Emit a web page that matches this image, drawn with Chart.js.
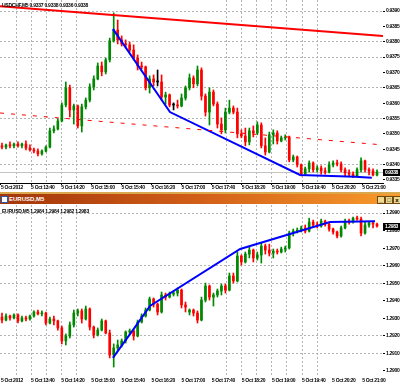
<!DOCTYPE html>
<html>
<head>
<meta charset="utf-8">
<script src="https://cdn.jsdelivr.net/npm/chart.js@4.4.1/dist/chart.umd.min.js"></script>
<style>
body { margin: 0; background: #fff; }
#wrap { position: relative; width: 400px; height: 385px; overflow: hidden; }
canvas { position: absolute; left: 0; }
#c1 { top: 0; }
#c2 { top: 205px; }
.hdr { position: absolute; left: 2px; font: bold 5px 'Liberation Sans', sans-serif; letter-spacing: -0.25px; color: #000; white-space: nowrap; line-height: 6px; }
#gold { position: absolute; left: 0; top: 192px; width: 400px; height: 2px; background: #d9a84f; }
#bar { position: absolute; left: 0; top: 194px; width: 400px; height: 10px; background: linear-gradient(to right, #a2350a, #d25f18 50%, #f99b2c); }
#icon { position: absolute; left: 1px; top: 196px; width: 5px; height: 5px; background: #fff; border: 1px solid #2c5aa8; }
#title { position: absolute; left: 9px; top: 195px; font: bold 6px 'Liberation Sans', sans-serif; color: #fff; line-height: 9px; }
.btn { position: absolute; top: 196px; width: 6px; height: 6px; background: #efd890; border: 1px solid #6a4a12; font: bold 6px 'Liberation Sans', sans-serif; line-height: 6px; text-align: center; color: #000; }
</style>
</head>
<body>
<div id="wrap">
  <canvas id="c1" width="400" height="192"></canvas>
  <div class="hdr" id="h1" style="top:2px"></div>
  <div id="gold"></div>
  <div id="bar"></div>
  <div id="icon"></div>
  <div id="title">EURUSD,M5</div>
  <div class="btn" style="left:377px">_</div>
  <div class="btn" style="left:385px">&#9633;</div>
  <div class="btn" style="left:393px">x</div>
  <canvas id="c2" width="400" height="180"></canvas>
  <div class="hdr" id="h2" style="top:208px"></div>
</div>
<script>
// time axis labels (shared by both windows)
var timeLabels = ['5 Oct 2012', '5 Oct 13:40', '5 Oct 14:20', '5 Oct 15:00', '5 Oct 15:40', '5 Oct 16:20',
  '5 Oct 17:00', '5 Oct 17:40', '5 Oct 18:20', '5 Oct 19:00', '5 Oct 19:40', '5 Oct 20:20', '5 Oct 21:00'];

// USDCHF,M5 candles
var chfOpen = [0.93461,0.93457,0.93464,0.93461,0.93467,0.93461,0.93467,0.93454,0.93448,0.93444,
  0.93435,0.93444,0.93457,0.93510,0.93516,0.93542,0.93594,0.93650,0.93578,0.93591,
  0.93526,0.93588,0.93610,0.93653,0.93679,0.93721,0.93702,0.93741,0.93803,0.93838,
  0.93806,0.93793,0.93790,0.93773,0.93747,0.93721,0.93718,0.93650,0.93679,0.93669,
  0.93669,0.93620,0.93627,0.93594,0.93594,0.93591,0.93617,0.93650,0.93682,0.93663,
  0.93708,0.93623,0.93571,0.93636,0.93597,0.93532,0.93513,0.93571,0.93584,0.93571,
  0.93500,0.93493,0.93474,0.93510,0.93503,0.93529,0.93461,0.93441,0.93497,0.93503,
  0.93477,0.93487,0.93490,0.93415,0.93425,0.93399,0.93369,0.93386,0.93405,0.93383,
  0.93389,0.93379,0.93376,0.93399,0.93405,0.93402,0.93383,0.93373,0.93369,0.93363,
  0.93383,0.93412,0.93383,0.93379,0.93366];
var chfHigh = [0.93470,0.93467,0.93474,0.93470,0.93474,0.93470,0.93477,0.93464,0.93454,0.93451,
  0.93448,0.93461,0.93519,0.93526,0.93549,0.93601,0.93669,0.93659,0.93597,0.93594,
  0.93597,0.93617,0.93663,0.93689,0.93731,0.93734,0.93747,0.93812,0.93894,0.93871,
  0.93819,0.93806,0.93799,0.93790,0.93757,0.93734,0.93721,0.93689,0.93692,0.93708,
  0.93692,0.93636,0.93630,0.93601,0.93610,0.93630,0.93656,0.93695,0.93689,0.93721,
  0.93715,0.93630,0.93650,0.93643,0.93604,0.93552,0.93584,0.93610,0.93591,0.93584,
  0.93513,0.93519,0.93519,0.93526,0.93539,0.93536,0.93487,0.93506,0.93513,0.93510,
  0.93493,0.93497,0.93493,0.93431,0.93428,0.93402,0.93392,0.93412,0.93409,0.93396,
  0.93396,0.93389,0.93409,0.93412,0.93415,0.93409,0.93389,0.93383,0.93376,0.93389,
  0.93422,0.93415,0.93389,0.93386,0.93383];
var chfLow = [0.93451,0.93451,0.93454,0.93454,0.93457,0.93454,0.93448,0.93444,0.93438,0.93428,
  0.93431,0.93441,0.93454,0.93503,0.93513,0.93539,0.93588,0.93555,0.93532,0.93519,
  0.93506,0.93581,0.93604,0.93643,0.93676,0.93689,0.93695,0.93734,0.93799,0.93793,
  0.93786,0.93780,0.93767,0.93741,0.93708,0.93711,0.93643,0.93633,0.93656,0.93656,
  0.93610,0.93597,0.93588,0.93578,0.93584,0.93588,0.93610,0.93643,0.93650,0.93656,
  0.93610,0.93558,0.93529,0.93591,0.93519,0.93500,0.93503,0.93565,0.93565,0.93487,
  0.93487,0.93461,0.93464,0.93490,0.93497,0.93454,0.93431,0.93438,0.93467,0.93467,
  0.93474,0.93480,0.93409,0.93409,0.93392,0.93363,0.93366,0.93376,0.93376,0.93376,
  0.93369,0.93369,0.93373,0.93392,0.93396,0.93376,0.93363,0.93363,0.93357,0.93360,
  0.93376,0.93376,0.93366,0.93363,0.93363];
var chfClose = [0.93457,0.93464,0.93461,0.93467,0.93461,0.93467,0.93454,0.93448,0.93444,0.93435,
  0.93444,0.93457,0.93510,0.93516,0.93542,0.93594,0.93650,0.93578,0.93591,0.93526,
  0.93588,0.93610,0.93653,0.93679,0.93721,0.93702,0.93741,0.93803,0.93838,0.93806,
  0.93793,0.93790,0.93773,0.93747,0.93721,0.93718,0.93650,0.93679,0.93669,0.93669,
  0.93620,0.93627,0.93594,0.93594,0.93591,0.93617,0.93650,0.93682,0.93663,0.93708,
  0.93623,0.93571,0.93636,0.93597,0.93532,0.93513,0.93571,0.93584,0.93571,0.93500,
  0.93493,0.93474,0.93510,0.93503,0.93529,0.93461,0.93441,0.93497,0.93503,0.93477,
  0.93487,0.93490,0.93415,0.93425,0.93399,0.93369,0.93386,0.93405,0.93383,0.93389,
  0.93379,0.93376,0.93399,0.93405,0.93402,0.93383,0.93373,0.93369,0.93363,0.93383,
  0.93412,0.93383,0.93379,0.93366,0.93376];
var chfTicks = [0.9335,0.9340,0.9345,0.9350,0.9355,0.9360,0.9365,0.9370,0.9375,0.9380,0.9385,0.9390];
// drawn objects: red channel lines and blue curve
var trendX = [-0.5, 95.5];
var chfRedLine = [0.93916, 0.93819];
var chfRedDotted = [0.93568, 0.93464];
var chfBlueX = [27.8, 42.1, 74.7, 88.5, 92.7];
var chfBlueY = [0.93842, 0.93571, 0.93366, 0.93360, 0.93357];

// EURUSD,M5 candles
var eurOpen = [1.29307,1.29290,1.29313,1.29302,1.29319,1.29285,1.29302,1.29296,1.29313,1.29336,
  1.29325,1.29330,1.29273,1.29296,1.29285,1.29245,1.29171,1.29199,1.29262,1.29330,
  1.29342,1.29296,1.29353,1.29250,1.29205,1.29233,1.29285,1.29216,1.29091,1.29131,
  1.29148,1.29171,1.29222,1.29228,1.29199,1.29279,1.29313,1.29347,1.29410,1.29381,
  1.29336,1.29433,1.29421,1.29438,1.29444,1.29461,1.29376,1.29336,1.29347,1.29330,
  1.29290,1.29404,1.29484,1.29421,1.29433,1.29456,1.29484,1.29461,1.29541,1.29513,
  1.29655,1.29621,1.29666,1.29689,1.29644,1.29661,1.29712,1.29689,1.29672,1.29683,
  1.29678,1.29695,1.29701,1.29786,1.29797,1.29803,1.29815,1.29797,1.29849,1.29832,
  1.29826,1.29854,1.29837,1.29809,1.29792,1.29769,1.29815,1.29854,1.29849,1.29871,
  1.29866,1.29786,1.29832,1.29843,1.29837];
var eurHigh = [1.29330,1.29325,1.29319,1.29325,1.29325,1.29313,1.29313,1.29319,1.29342,1.29347,
  1.29342,1.29336,1.29307,1.29313,1.29290,1.29256,1.29211,1.29279,1.29347,1.29353,
  1.29353,1.29370,1.29359,1.29256,1.29245,1.29296,1.29290,1.29233,1.29154,1.29176,
  1.29182,1.29228,1.29239,1.29233,1.29290,1.29325,1.29359,1.29421,1.29416,1.29387,
  1.29450,1.29444,1.29450,1.29456,1.29473,1.29467,1.29393,1.29353,1.29353,1.29342,
  1.29421,1.29501,1.29490,1.29444,1.29467,1.29495,1.29495,1.29558,1.29558,1.29678,
  1.29661,1.29678,1.29706,1.29695,1.29678,1.29729,1.29723,1.29723,1.29695,1.29695,
  1.29706,1.29712,1.29797,1.29809,1.29815,1.29826,1.29832,1.29871,1.29860,1.29849,
  1.29866,1.29860,1.29843,1.29815,1.29797,1.29826,1.29866,1.29866,1.29877,1.29883,
  1.29877,1.29849,1.29849,1.29849,1.29843];
var eurLow = [1.29273,1.29285,1.29290,1.29296,1.29273,1.29279,1.29285,1.29290,1.29307,1.29319,
  1.29313,1.29262,1.29268,1.29262,1.29233,1.29154,1.29148,1.29188,1.29250,1.29313,
  1.29273,1.29290,1.29233,1.29188,1.29199,1.29228,1.29211,1.29074,1.29022,1.29119,
  1.29137,1.29159,1.29205,1.29176,1.29194,1.29273,1.29307,1.29342,1.29364,1.29319,
  1.29330,1.29404,1.29416,1.29427,1.29427,1.29359,1.29336,1.29319,1.29313,1.29273,
  1.29285,1.29393,1.29404,1.29370,1.29421,1.29433,1.29444,1.29456,1.29501,1.29507,
  1.29604,1.29615,1.29644,1.29621,1.29632,1.29615,1.29666,1.29655,1.29644,1.29666,
  1.29672,1.29678,1.29695,1.29769,1.29786,1.29792,1.29786,1.29792,1.29820,1.29815,
  1.29820,1.29826,1.29797,1.29780,1.29758,1.29763,1.29809,1.29837,1.29843,1.29860,
  1.29769,1.29780,1.29820,1.29815,1.29820];
var eurClose = [1.29290,1.29313,1.29302,1.29319,1.29285,1.29302,1.29296,1.29313,1.29336,1.29325,
  1.29330,1.29273,1.29296,1.29285,1.29245,1.29171,1.29199,1.29262,1.29330,1.29342,
  1.29296,1.29353,1.29250,1.29205,1.29233,1.29285,1.29216,1.29091,1.29131,1.29148,
  1.29171,1.29222,1.29228,1.29199,1.29279,1.29313,1.29347,1.29410,1.29381,1.29336,
  1.29433,1.29421,1.29438,1.29444,1.29461,1.29376,1.29364,1.29347,1.29330,1.29290,
  1.29404,1.29484,1.29421,1.29433,1.29456,1.29484,1.29461,1.29541,1.29513,1.29655,
  1.29621,1.29666,1.29689,1.29644,1.29661,1.29712,1.29689,1.29672,1.29683,1.29678,
  1.29695,1.29701,1.29786,1.29797,1.29803,1.29815,1.29797,1.29849,1.29832,1.29826,
  1.29854,1.29837,1.29809,1.29792,1.29769,1.29815,1.29854,1.29849,1.29871,1.29866,
  1.29786,1.29832,1.29843,1.29837,1.29826];
var eurTicks = [1.2900,1.2910,1.2920,1.2930,1.2940,1.2950,1.2960,1.2970,1.2980,1.2990];
var eurBlueX = [27.8, 32.8, 37.1, 59.7, 74.7, 82.2, 93.5];
var eurBlueY = [1.29074, 1.29233, 1.29370, 1.29695, 1.29798, 1.29849, 1.29854];

var GREEN = '#008800', RED = '#ff0000', DOJI = '#000000';
var FONT = "'Liberation Sans', sans-serif";

function pts(xs, ys) {
    return xs.map(function (x, i) { return {x: x, y: ys[i]}; });
}

// tight letter spacing for the tiny terminal-style labels
var tightText = {
    id: 'tightText',
    beforeDraw: function (chart) { chart.ctx.letterSpacing = '-0.3px'; }
};

// black price box on the right scale (+ grey bid line)
var lastPrice = {
    id: 'lastPrice',
    beforeDatasetsDraw: function (chart, args, opts) {
        if (!opts.line) return;
        var a = chart.chartArea, y = Math.round(chart.scales.y.getPixelForValue(opts.value)) + 0.5;
        var ctx = chart.ctx;
        ctx.save();
        ctx.strokeStyle = '#c4c4c4';
        ctx.lineWidth = 1;
        ctx.beginPath(); ctx.moveTo(a.left, y); ctx.lineTo(a.right, y); ctx.stroke();
        ctx.restore();
    },
    afterDraw: function (chart, args, opts) {
        var a = chart.chartArea, y = Math.round(chart.scales.y.getPixelForValue(opts.value));
        var ctx = chart.ctx;
        ctx.save();
        ctx.fillStyle = '#000';
        ctx.fillRect(a.right, y - 3, 17, 7);
        ctx.fillStyle = '#fff';
        ctx.font = 'bold 5px ' + FONT;
        ctx.letterSpacing = '-0.4px';
        ctx.textBaseline = 'middle';
        ctx.fillText(opts.value.toFixed(4), a.right + 2, y + 0.5);
        ctx.restore();
    }
};

function candleChart(id, o, h, l, c, yTicks, yMin, yMax, rows, lines, top) {
    var cols = o.map(function (v, i) { return c[i] > v ? GREEN : (c[i] < v ? RED : DOJI); });
    var wicks = l.map(function (v, i) { return {x: i, y: [v, h[i]]}; });
    var bodies = o.map(function (v, i) { return {x: i, y: [v, c[i]]}; });
    var gridCols = [1, 2, 3, 4, 5, 15, 16, 17, 18, 19, 20, 21];

    return new Chart(document.getElementById(id), {
        type: 'bar',
        data: {
            datasets: [
                {data: wicks, backgroundColor: cols, barThickness: 1, grouped: false, order: 3},
                {data: bodies, backgroundColor: cols, barThickness: 2, minBarLength: 1, grouped: false, order: 2}
            ].concat(lines)
        },
        options: {
            responsive: false,
            animation: false,
            devicePixelRatio: 1,
            layout: {padding: 0},
            plugins: {
                legend: {display: false},
                tooltip: {enabled: false},
                lastPrice: {value: c[c.length - 1], line: top}
            },
            scales: {
                x: {
                    type: 'linear', min: -0.5, max: 95.5, offset: false,
                    afterBuildTicks: function (s) {
                        var t = [];
                        for (var k = 0; k <= 25; k++) t.push({value: -0.5 + (1 + 15.05 * k) * 96 / 383});
                        s.ticks = t;
                    },
                    afterFit: function (s) { s.height = 9; s.paddingLeft = 0; s.paddingRight = 0; },
                    grid: {
                        offset: false, lineWidth: 1, tickLength: 2,
                        color: function (ctx) { return gridCols.indexOf(ctx.index) >= 0 ? '#b4b4b4' : 'rgba(0,0,0,0)'; },
                        tickColor: function (ctx) { return (top && ctx.index % 2 === 0) ? '#000' : 'rgba(0,0,0,0)'; }
                    },
                    border: {display: top, color: '#000', width: 1, dash: [2, 2]},
                    ticks: {
                        autoSkip: false, maxRotation: 0, align: 'start', padding: 0, color: '#000',
                        font: {size: 5, weight: 'bold', family: FONT},
                        callback: function (v, i) { return i % 2 === 0 ? timeLabels[i / 2] : ''; }
                    }
                },
                y: {
                    position: 'right', min: yMin, max: yMax,
                    afterBuildTicks: function (s) {
                        s.ticks = yTicks.map(function (v) { return {value: v}; });
                    },
                    afterFit: function (s) { s.width = 17; s.paddingTop = 0; s.paddingBottom = 0; },
                    grid: {
                        lineWidth: 1, tickLength: 2, tickColor: '#000',
                        color: function (ctx) { return rows.indexOf(ctx.index) >= 0 ? '#b4b4b4' : 'rgba(0,0,0,0)'; }
                    },
                    border: {display: false, dash: [2, 2]},
                    ticks: {
                        autoSkip: false, padding: 1, color: '#000',
                        font: {size: 5, weight: 'bold', family: FONT},
                        callback: function (v) { return v.toFixed(4); }
                    }
                }
            }
        },
        plugins: [tightText, lastPrice]
    });
}

candleChart('c1', chfOpen, chfHigh, chfLow, chfClose, chfTicks, 0.93340, 0.93936, [1, 4, 6, 8, 9, 11], [
    {type: 'line', data: pts(trendX, chfRedLine), borderColor: '#ff0000', borderWidth: 2, pointRadius: 0, order: 1},
    {type: 'line', data: pts(trendX, chfRedDotted), borderColor: '#ff0000', borderWidth: 1, borderDash: [4, 7], pointRadius: 0, order: 1},
    {type: 'line', data: pts(chfBlueX, chfBlueY), borderColor: '#0000ff', borderWidth: 2, pointRadius: 0, order: 1}
], true);

candleChart('c2', eurOpen, eurHigh, eurLow, eurClose, eurTicks, 1.28971, 1.29946, [1, 2, 5, 6, 9], [
    {type: 'line', data: pts(eurBlueX, eurBlueY), borderColor: '#0000ff', borderWidth: 2, pointRadius: 0, order: 1}
], false);

// window headers: symbol and last bar O/H/L/C
function hdr(id, name, o, h, l, c) {
    var n = o.length - 1;
    document.getElementById(id).textContent = name + ' ' + [o[n], h[n], l[n], c[n]].map(function (v) { return v.toFixed(4); }).join(' ');
}
hdr('h1', 'USDCHF,M5', chfOpen, chfHigh, chfLow, chfClose);
hdr('h2', 'EURUSD,M5', eurOpen, eurHigh, eurLow, eurClose);
</script>
</body>
</html>
